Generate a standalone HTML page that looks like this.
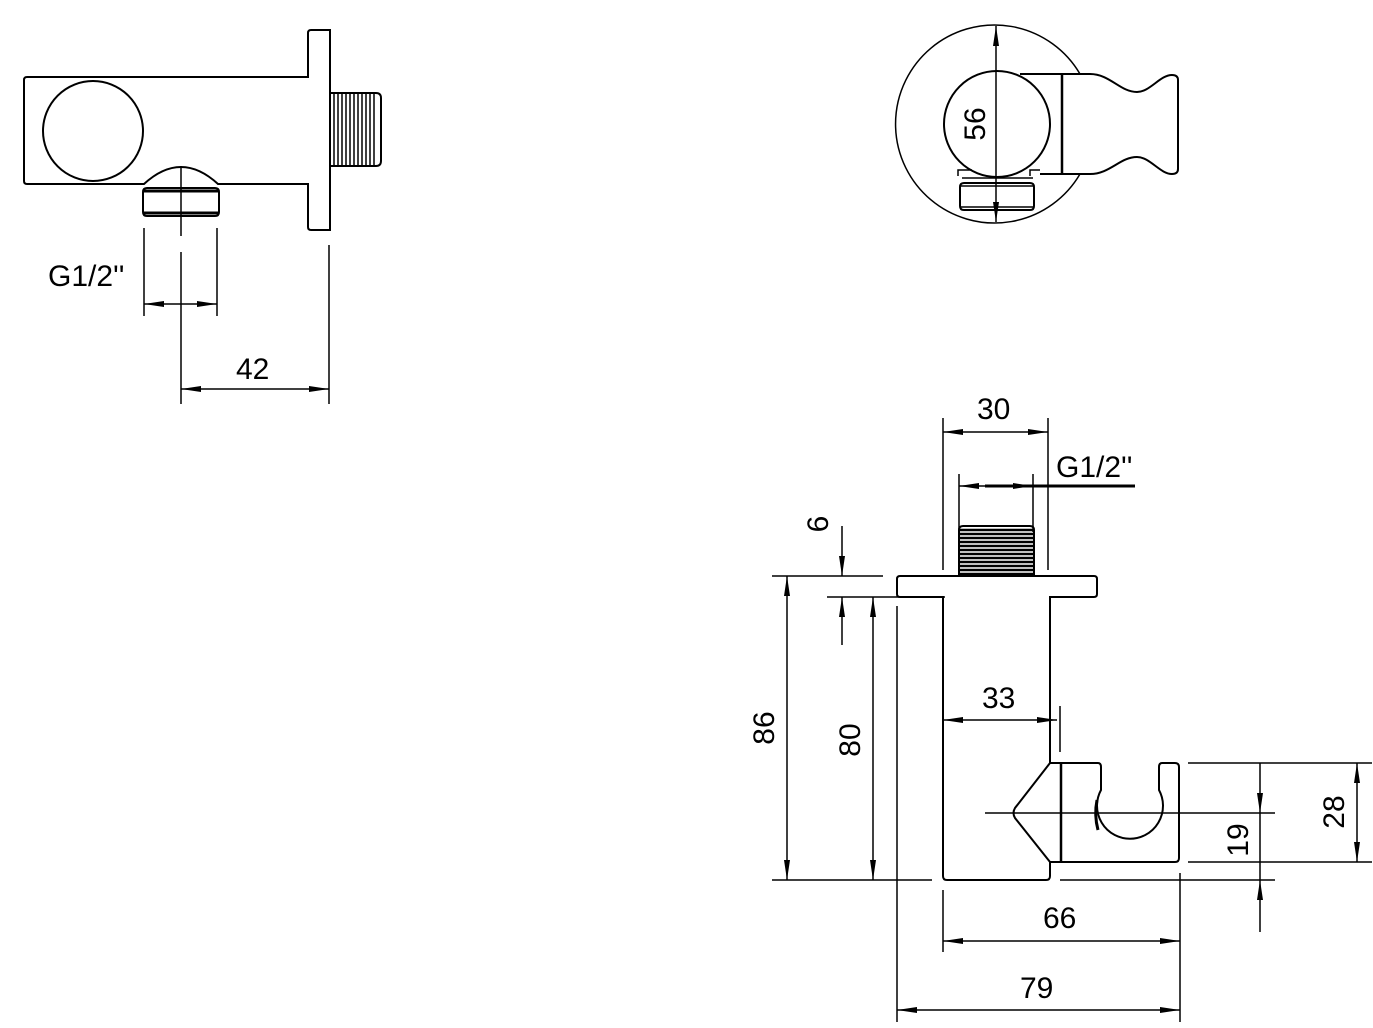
<!DOCTYPE html>
<html><head><meta charset="utf-8"><style>body{margin:0;background:#fff}svg{display:block}text{font-family:"Liberation Sans",sans-serif;fill:#000}</style></head><body>
<svg width="1373" height="1028" viewBox="0 0 1373 1028" xmlns="http://www.w3.org/2000/svg">
<defs>
<marker id="a" viewBox="0 0 20 6" refX="20" refY="3" markerWidth="20" markerHeight="6" markerUnits="userSpaceOnUse" orient="auto-start-reverse"><path d="M0,0 L20,3 L0,6z" fill="#000"/></marker>
</defs>
<g fill="none" stroke="#000" stroke-width="2">
<!-- top-left view -->
<path d="M27,77 H308 V33 Q308,30 311,30 H330 V230 H311 Q308,230 308,227 V184 H218 Q181,150 144,184 H27 Q24,184 24,181 V80 Q24,77 27,77Z"/>
<circle cx="93" cy="131" r="50"/>
<path d="M330,93 H376 Q381,93 381,98 V161 Q381,166 376,166 H330"/>
<path d="M334,94 V165 M338,94 V165 M342,94 V165 M346,94 V165 M350,94 V165 M354,94 V165 M358,94 V165 M362,94 V165 M366,94 V165 M370,94 V165 M374,94 V165" stroke-width="1.5"/>
<path d="M147,188 H215 Q219,188 219,192 V212 Q219,216 215,216 H147 Q143,216 143,212 V192 Q143,188 147,188Z"/>
<path d="M144,191 H218 M144,213 H218" stroke-width="3"/>
<path d="M181,166 V236 M181,252 V404" stroke-width="1.5"/>
<path d="M144,228 V316 M217,228 V316 M329,245 V404" stroke-width="1.5"/>
<path d="M144,304 H168" stroke-width="1.5" marker-start="url(#a)"/>
<path d="M168,304 H194" stroke-width="1.5"/>
<path d="M194,304 H217" stroke-width="1.5" marker-end="url(#a)"/>
<path d="M181,389 H329" stroke-width="1.5" marker-start="url(#a)" marker-end="url(#a)"/>
<!-- top-right view -->
<path d="M1080,74 A99,99 0 1 0 1080,174" stroke-width="1.5"/>
<circle cx="997" cy="124" r="53"/>
<path d="M1020,74 H1090 C1110,74 1120,92 1137,92 C1150,92 1160,75 1172,75 Q1178,75 1178,80 V169 Q1178,174 1172,174 C1160,174 1150,157 1137,157 C1120,157 1110,174 1090,174 H1040"/>
<path d="M1062,74 V174" stroke-width="2.5"/>
<path d="M958,176 V170 H972 M1030,176 V170 H1040" stroke-width="1.5"/>
<path d="M964,183 H1030 Q1034,183 1034,187 V206 Q1034,210 1030,210 H964 Q960,210 960,206 V187 Q960,183 964,183Z"/>
<path d="M962,178 H1033 M961,186 H1033 M961,207 H1033" stroke-width="1.5"/>
<path d="M996,26 V222" stroke-width="1.5" marker-start="url(#a)" marker-end="url(#a)"/>
<!-- bottom view -->
<path d="M1050,763 V597 H1094 Q1097,597 1097,594 V579 Q1097,576 1094,576 H900 Q897,576 897,579 V594 Q897,597 900,597 H943 V876 Q943,880 947,880 H1046 Q1050,880 1050,876 V862"/>
<path d="M959,576 V530 Q959,526 963,526 H1030 Q1034,526 1034,530 V576"/>
<path d="M959,530 H1034 M959,534 H1034 M959,538 H1034 M959,542 H1034 M959,546 H1034 M959,550 H1034 M959,554 H1034 M959,558 H1034 M959,562 H1034 M959,566 H1034 M959,570 H1034 M959,574 H1034" stroke-width="2.5"/>
<path d="M1050,763 L1015,808 Q1012,813 1015,818 L1050,862 H1175 Q1179,862 1179,858 V767 Q1179,763 1175,763 H1162 Q1159,763 1159,767 V790 A33,33 0 1 1 1101,790 V767 Q1101,763 1098,763 Z"/>
<path d="M1061,763 V862" stroke-width="2.5"/>
<path d="M1097,800 Q1094,815 1098,830" stroke-width="3"/>
<path d="M985,813 H1275" stroke-width="1.5"/>
<g stroke-width="1.5">
<path d="M772,576 H883 M772,880 H932 M1060,880 H1275 M858,597 H945 M827,597 H887 M897,606 V1022 M943,890 V952 M1180,873 V1022 M943,418 V570 M1048,418 V570 M959,474 V532 M1033,474 V532 M1060,706 V752 M1188,763 H1372 M1188,862 H1372"/>
<path d="M787,576 V880" marker-start="url(#a)" marker-end="url(#a)"/>
<path d="M873,597 V880" marker-start="url(#a)" marker-end="url(#a)"/>
<path d="M842,526 V576" marker-end="url(#a)"/>
<path d="M842,645 V597" marker-end="url(#a)"/>
<path d="M943,720 H1057" marker-start="url(#a)" marker-end="url(#a)"/>
<path d="M943,432 H1048" marker-start="url(#a)" marker-end="url(#a)"/>
<path d="M943,941 H1180" marker-start="url(#a)" marker-end="url(#a)"/>
<path d="M897,1010 H1180" marker-start="url(#a)" marker-end="url(#a)"/>
<path d="M1357,763 V862" marker-start="url(#a)" marker-end="url(#a)"/>
<path d="M1260,763 V813" marker-end="url(#a)"/>
<path d="M1260,813 V880"/>
<path d="M1260,932 V880" marker-end="url(#a)"/>
</g>
<path d="M959,486 H985" stroke-width="1.5" marker-start="url(#a)"/>
<path d="M985,486 H1033" stroke-width="3" marker-end="url(#a)"/>
<path d="M1033,486 H1135" stroke-width="3"/>
</g>
<g font-size="30">
<text x="48" y="286">G1/2''</text>
<text x="236" y="379">42</text>
<text x="977" y="419">30</text>
<text x="1056" y="477">G1/2''</text>
<text x="982" y="708">33</text>
<text x="1043" y="928">66</text>
<text x="1020" y="998">79</text>
<text transform="translate(985,124) rotate(-90)" text-anchor="middle">56</text>
<text transform="translate(828,524) rotate(-90)" text-anchor="middle">6</text>
<text transform="translate(774,728) rotate(-90)" text-anchor="middle">86</text>
<text transform="translate(860,740) rotate(-90)" text-anchor="middle">80</text>
<text transform="translate(1248,840) rotate(-90)" text-anchor="middle">19</text>
<text transform="translate(1344,812) rotate(-90)" text-anchor="middle">28</text>
</g>
</svg>
</body></html>
